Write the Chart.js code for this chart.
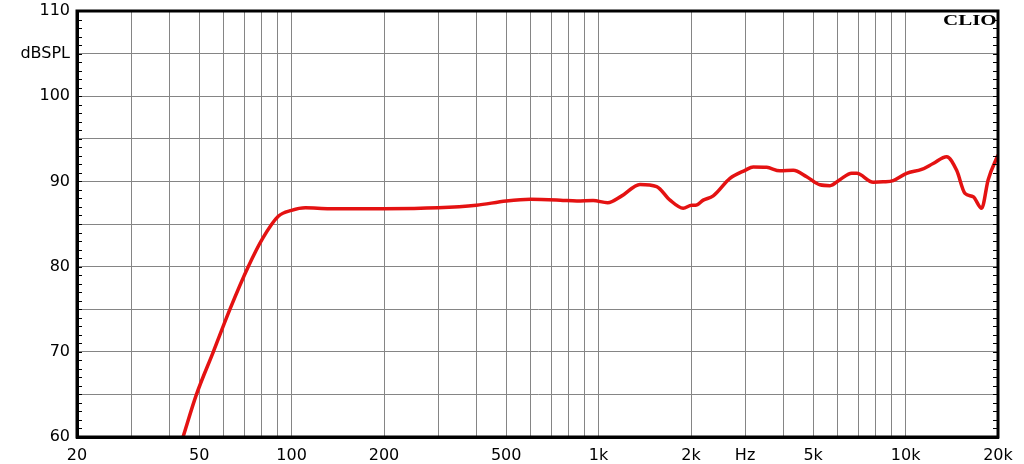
<!DOCTYPE html>
<html>
<head>
<meta charset="utf-8">
<style>
  html, body { margin: 0; padding: 0; background: #fff; }
  #wrap { width: 1024px; height: 464px; }
</style>
<script src="https://cdn.jsdelivr.net/npm/chart.js@4.4.0/dist/chart.umd.min.js"></script>
</head>
<body>
<div id="wrap"><canvas id="myChart"></canvas></div>
<script>
// frequency response
const freqs = [44.3, 49, 55.6, 63, 72.3, 80.5, 90.5, 100, 111, 133, 200, 300, 400, 500, 600, 750, 850, 960,
  1070, 1190, 1364, 1546, 1709, 1886, 2009, 2070, 2192, 2363, 2679, 3000, 3190, 3527, 3898, 4306, 4762,
  5260, 5672, 6110, 6672, 6928, 7846, 8456, 9114, 10078, 11278, 12300, 13604, 14666, 15608, 16612,
  17688, 18580, 20000];
const spl = [60, 65, 70, 75, 80, 83.3, 85.9, 86.6, 86.9, 86.8, 86.8, 86.9, 87.2, 87.7, 87.9, 87.8, 87.7, 87.75,
  87.5, 88.3, 89.65, 89.4, 87.8, 86.85, 87.2, 87.2, 87.8, 88.3, 90.35, 91.3, 91.7, 91.65, 91.25, 91.3, 90.55,
  89.6, 89.5, 90.2, 90.95, 90.95, 89.9, 89.95, 90.1, 90.95, 91.4, 92.1, 92.9, 91.3, 88.6, 88.2,
  86.85, 90.2, 93.1];

const xGrid = [20, 30, 40, 50, 60, 70, 80, 90, 100, 200, 300, 400, 500, 600, 700, 800, 900,
  1000, 2000, 3000, 4000, 5000, 6000, 7000, 8000, 9000, 10000, 20000];
const xLabels = {20: '20', 50: '50', 100: '100', 200: '200', 500: '500', 1000: '1k', 2000: '2k',
  3000: 'Hz', 5000: '5k', 10000: '10k', 20000: '20k'};
const yLabels = {60: '60', 70: '70', 80: '80', 90: '90', 100: '100', 105: 'dBSPL', 110: '110'};

const ctx = document.getElementById('myChart');

const frame = {
  id: 'frame',
  afterDatasetsDraw(chart) {
    const c = chart.ctx, a = chart.chartArea, y = chart.scales.y;
    c.save();
    c.strokeStyle = '#000';
    c.lineWidth = 1;
    c.beginPath();
    for (let v = 60; v <= 110; v++) {
      const py = Math.round(y.getPixelForValue(v)) + 0.5;
      c.moveTo(a.left, py); c.lineTo(a.left + 5, py);
      c.moveTo(a.right, py); c.lineTo(a.right - 5, py);
    }
    c.stroke();
    c.lineWidth = 3;
    c.strokeRect(a.left, a.top, a.right - a.left, a.bottom - a.top);
    // CLIO mark
    c.font = 'bold 15px "Liberation Serif"';
    c.fillStyle = '#000';
    c.textBaseline = 'top';
    c.translate(a.right - 55, a.top + 3);
    c.scale(1.4, 1);
    c.fillText('CLIO', 0, 0);
    c.restore();
  }
};

new Chart(ctx, {
  type: 'line',
  data: {
    datasets: [{
      data: freqs.map((f, i) => ({x: f, y: spl[i]})),
      borderColor: 'rgb(228,18,18)',
      borderWidth: 3.5,
      pointRadius: 0,
      cubicInterpolationMode: 'monotone',
      fill: false
    }]
  },
  options: {
    responsive: true,
    maintainAspectRatio: false,
    animation: false,
    layout: { padding: { top: 11, right: 26, left: 0, bottom: 0 } },
    plugins: { legend: { display: false }, tooltip: { enabled: false } },
    scales: {
      x: {
        type: 'logarithmic',
        min: 20,
        max: 20000,
        afterBuildTicks: (s) => { s.ticks = xGrid.map(v => ({ value: v })); },
        afterFit: (s) => { s.height = 27; s.paddingLeft = 0; s.paddingRight = 0; },
        grid: { color: '#858585', lineWidth: 1, drawTicks: false },
        border: { color: '#000', width: 3 },
        ticks: {
          autoSkip: false,
          maxRotation: 0,
          padding: 9,
          color: '#000',
          font: { family: 'DejaVu Sans', size: 16 },
          callback: (v) => xLabels[v] || ''
        }
      },
      y: {
        min: 60,
        max: 110,
        afterFit: (s) => { s.width = 77; s.paddingTop = 0; s.paddingBottom = 0; },
        grid: { color: '#858585', lineWidth: 1, drawTicks: false },
        border: { color: '#000', width: 3 },
        ticks: {
          stepSize: 5,
          padding: 7,
          color: '#000',
          font: { family: 'DejaVu Sans', size: 16 },
          callback: (v) => yLabels[v] || ''
        }
      }
    }
  },
  plugins: [frame]
});
</script>
</body>
</html>
